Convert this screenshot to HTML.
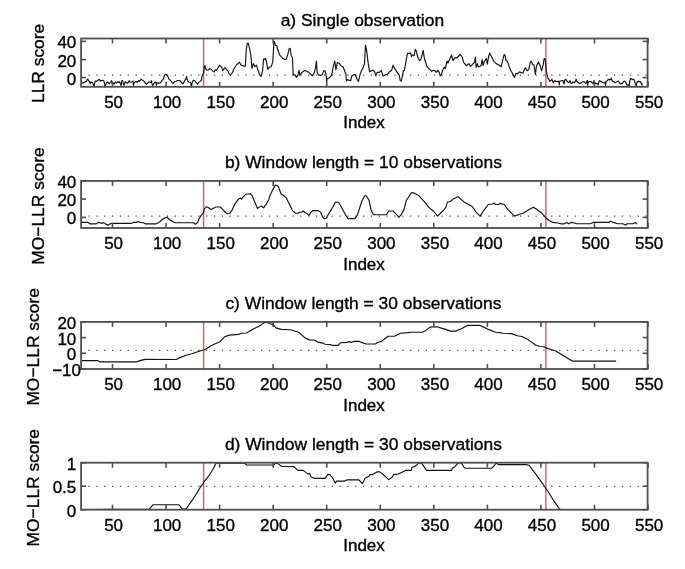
<!DOCTYPE html>
<html><head><meta charset="utf-8"><style>
html,body{margin:0;padding:0;background:#fff;}
svg{display:block;will-change:transform;}
text{font-family:"Liberation Sans",sans-serif;font-size:17px;fill:#000;stroke:#000;stroke-width:0.35px;}
.t{font-size:17.4px;}
</style></head><body>
<svg width="685" height="569" viewBox="0 0 685 569">
<rect width="685" height="569" fill="#fff"/>

<line x1="81.1" y1="75.2" x2="647.6" y2="75.2" stroke="#4a4a4a" stroke-width="1.25" stroke-dasharray="1.25 6.594" stroke-dashoffset="0.49"/>
<line x1="203.60" y1="38.5" x2="203.60" y2="86.8" stroke="#c56b71" stroke-width="1.5"/>
<line x1="545.90" y1="38.5" x2="545.90" y2="86.8" stroke="#c56b71" stroke-width="1.5"/>
<path d="M81.5,82.7 L82.6,83.1 L83.5,82.9 L84.6,82.0 L85.7,81.6 L86.6,81.4 L87.0,79.9 L87.7,79.2 L88.5,80.3 L89.4,81.6 L90.3,83.6 L91.0,81.8 L91.6,82.5 L92.7,82.7 L93.8,86.2 L94.5,84.5 L95.1,81.2 L95.8,81.0 L96.4,81.4 L97.5,80.5 L98.8,79.6 L99.5,79.4 L100.4,81.2 L101.0,80.7 L102.1,80.3 L103.2,80.5 L103.9,81.0 L104.5,83.1 L104.9,87.1 L105.6,84.9 L106.3,83.1 L107.4,82.0 L108.5,82.9 L109.3,84.0 L110.6,82.0 L111.7,80.7 L112.4,85.0 L112.8,82.5 L114.1,84.0 L115.2,82.0 L116.3,83.1 L117.4,81.8 L118.5,82.5 L119.2,81.6 L120.0,82.7 L121.1,85.5 L121.8,80.5 L122.7,80.5 L123.5,84.5 L124.2,85.1 L124.9,82.3 L125.7,81.8 L126.8,82.9 L127.9,83.1 L129.2,80.7 L130.1,82.0 L131.0,82.3 L132.1,81.8 L133.0,81.0 L133.4,85.3 L134.1,82.7 L135.2,81.8 L136.3,81.6 L137.3,82.5 L138.4,80.5 L139.3,81.4 L140.2,80.5 L141.3,79.2 L142.4,80.3 L143.4,80.5 L144.3,81.6 L145.4,83.4 L146.5,84.5 L147.6,83.1 L148.7,82.0 L150.0,82.3 L151.1,82.3 L151.4,80.5 L151.8,83.1 L152.6,85.5 L153.5,84.2 L154.8,82.3 L155.9,82.0 L156.4,85.5 L157.0,82.7 L158.3,83.1 L159.7,83.1 L160.5,82.7 L161.4,81.4 L162.3,80.1 L163.4,79.2 L164.0,76.6 L164.7,74.8 L165.6,74.2 L166.0,74.3 L167.1,75.2 L167.9,76.5 L168.6,78.3 L169.3,79.8 L170.1,80.0 L171.0,80.9 L172.1,82.6 L173.0,83.3 L173.9,82.4 L175.0,81.5 L176.3,81.3 L177.6,80.5 L179.1,80.5 L180.2,80.9 L181.3,82.2 L182.4,83.7 L183.3,83.5 L184.1,81.8 L185.0,80.0 L185.9,79.1 L186.6,76.5 L187.0,79.1 L187.7,80.5 L188.5,81.8 L189.4,82.2 L190.3,82.4 L190.9,83.3 L191.4,87.0 L192.0,83.1 L192.9,80.9 L193.5,80.2 L195.0,81.1 L196.2,82.3 L197.4,84.1 L198.6,82.6 L200.1,81.4 L201.3,80.2 L201.9,76.6 L202.8,74.5 L203.7,72.7 L204.3,66.5 L204.9,65.6 L205.4,67.7 L206.3,70.0 L207.8,70.3 L209.0,69.4 L209.9,68.3 L211.1,69.4 L212.6,70.9 L214.1,72.1 L215.3,69.7 L216.2,70.3 L217.4,69.1 L218.6,66.8 L219.5,65.3 L220.7,66.2 L221.9,67.7 L222.8,70.8 L224.8,67.7 L226.4,69.3 L227.9,70.8 L228.9,73.3 L230.4,74.9 L232.0,73.3 L234.0,68.7 L236.6,64.7 L239.6,62.1 L240.7,64.7 L242.7,65.9 L245.3,66.2 L246.3,49.3 L247.3,43.2 L248.3,43.2 L249.9,50.4 L250.9,55.5 L251.9,68.2 L253.4,63.6 L255.0,66.7 L256.5,65.2 L257.5,68.7 L259.6,74.9 L261.1,76.4 L262.6,70.8 L263.6,59.0 L264.7,59.5 L265.7,58.5 L266.7,62.6 L267.7,69.3 L269.3,67.2 L271.3,66.7 L272.8,61.6 L273.9,42.2 L274.4,41.7 L275.4,45.2 L276.9,45.8 L277.6,49.3 L279.6,54.9 L282.2,58.0 L284.2,59.3 L286.2,59.3 L287.8,54.4 L289.3,48.3 L290.3,48.8 L291.3,56.0 L292.4,57.5 L293.2,74.9 L294.9,74.9 L296.5,77.4 L298.0,74.9 L299.0,70.3 L300.0,75.4 L301.6,72.8 L303.6,71.3 L305.1,70.3 L306.7,71.3 L308.7,72.3 L310.8,74.4 L312.3,75.9 L313.8,73.9 L315.4,68.7 L316.4,61.1 L317.1,71.8 L318.4,74.9 L320.5,75.4 L322.5,74.4 L323.5,70.8 L325.1,70.8 L326.1,74.9 L326.6,81.8 L327.1,79.0 L329.2,77.9 L331.7,75.4 L333.2,66.7 L334.8,61.1 L335.8,69.8 L337.3,62.6 L339.4,63.6 L341.4,66.2 L343.1,66.7 L344.6,70.8 L346.1,74.9 L346.3,81.0 L347.7,79.5 L349.2,80.5 L350.7,80.5 L351.8,75.9 L353.3,74.9 L355.3,74.4 L356.9,79.0 L358.4,81.5 L359.9,74.9 L361.5,70.8 L363.5,66.7 L364.5,63.6 L365.5,45.2 L366.6,50.4 L368.1,62.6 L369.6,71.8 L371.2,70.8 L373.2,70.3 L374.7,71.8 L375.8,75.9 L377.3,72.3 L379.3,72.3 L381.4,70.3 L382.9,75.9 L384.5,75.4 L386.0,74.4 L387.5,74.4 L389.0,72.3 L391.6,70.3 L393.1,65.2 L394.7,68.7 L397.2,72.3 L399.3,75.4 L400.3,81.0 L401.3,81.0 L403.4,70.8 L404.4,70.3 L405.9,61.6 L407.4,53.4 L409.1,53.4 L410.6,52.9 L411.6,56.5 L412.7,55.0 L414.2,55.5 L415.2,49.3 L416.2,50.9 L417.8,57.0 L419.3,60.6 L420.8,59.5 L422.4,53.9 L423.2,50.4 L424.4,58.5 L427.0,66.7 L429.0,68.7 L431.6,71.3 L433.6,70.3 L435.1,70.8 L436.2,72.3 L437.7,70.3 L439.2,72.3 L440.3,75.9 L441.3,74.9 L442.8,69.8 L444.3,67.2 L445.4,68.7 L446.9,61.1 L447.9,63.1 L450.0,58.5 L451.5,55.0 L453.0,60.6 L455.1,57.5 L457.1,58.0 L460.2,54.4 L462.2,57.0 L463.8,62.6 L466.3,65.7 L468.9,63.6 L470.4,66.2 L471.5,65.7 L473.1,63.6 L474.6,62.1 L475.3,57.0 L476.1,67.2 L477.4,63.6 L478.2,66.7 L479.7,66.7 L481.2,65.2 L482.1,59.5 L483.1,65.7 L484.3,61.6 L486.4,58.5 L487.4,64.1 L488.4,57.5 L489.6,52.9 L491.5,56.5 L494.0,61.6 L496.1,63.6 L498.6,64.7 L501.2,66.7 L502.7,60.1 L504.2,54.4 L505.3,56.0 L506.0,60.8 L507.3,61.1 L509.3,66.7 L510.9,70.8 L512.4,73.3 L514.5,77.4 L516.0,73.3 L517.5,73.9 L519.6,71.8 L521.1,72.8 L523.1,72.8 L525.2,67.7 L527.2,70.8 L528.8,69.3 L530.3,62.1 L531.3,61.1 L532.8,64.7 L533.9,64.7 L535.4,74.4 L536.5,65.7 L538.6,62.1 L540.1,65.7 L541.6,70.8 L543.2,64.7 L544.2,58.5 L545.2,59.0 L546.3,71.3 L547.2,75.3 L548.1,78.3 L549.2,79.9 L549.6,81.4 L550.5,80.7 L551.4,80.1 L552.0,79.4 L552.7,81.4 L553.3,82.7 L554.0,81.4 L554.9,80.7 L556.0,81.4 L557.0,81.6 L558.1,81.2 L559.0,81.4 L559.2,84.9 L559.7,81.4 L560.8,81.0 L561.9,80.5 L563.0,80.5 L563.6,83.1 L564.3,83.6 L564.7,80.5 L565.4,79.2 L566.0,79.6 L566.9,81.0 L567.8,81.8 L568.4,82.7 L569.1,82.3 L570.0,80.5 L570.6,82.5 L571.5,83.6 L572.2,83.1 L573.0,81.8 L574.5,82.7 L575.6,80.5 L576.1,79.2 L576.7,81.0 L577.6,82.0 L578.7,83.1 L580.0,83.6 L581.3,82.7 L582.9,81.6 L584.0,81.8 L585.0,82.7 L585.9,83.4 L587.0,81.0 L587.5,80.5 L587.7,85.3 L588.1,82.7 L589.0,81.6 L590.1,81.4 L591.2,81.6 L592.3,83.1 L593.1,83.6 L594.0,80.5 L594.5,84.5 L595.1,83.1 L596.2,83.6 L597.3,83.6 L598.2,84.9 L598.8,82.7 L599.3,80.7 L600.2,81.0 L601.3,81.6 L602.8,82.5 L604.1,82.9 L605.2,82.3 L605.6,85.3 L606.0,81.4 L607.1,81.0 L608.2,79.4 L609.5,79.9 L610.6,79.2 L611.3,78.1 L611.7,79.9 L612.6,81.2 L613.7,81.6 L615.0,82.7 L616.1,82.3 L617.4,81.4 L618.3,81.0 L619.4,82.7 L620.5,84.0 L621.6,83.4 L622.5,83.6 L623.3,81.6 L624.4,81.2 L625.5,81.8 L626.8,84.9 L627.7,85.3 L628.8,84.9 L629.4,85.5 L629.8,81.0 L630.5,78.3 L631.4,78.8 L632.2,79.6 L633.1,79.2 L634.0,79.6 L634.9,82.3 L635.7,84.9 L636.3,85.8 L636.8,82.7 L637.7,81.6 L639.0,81.4 L640.3,81.6 L641.4,83.6 L641.9,85.1 L642.5,83.6" fill="none" stroke="#111" stroke-width="1.15" stroke-linejoin="round"/>
<rect x="81.1" y="38.5" width="566.5" height="48.3" fill="none" stroke="#4e4e4e" stroke-width="1.8"/>
<line x1="112.50" y1="38.5" x2="112.50" y2="43.5" stroke="#4e4e4e" stroke-width="1.6"/>
<line x1="112.50" y1="86.8" x2="112.50" y2="81.8" stroke="#4e4e4e" stroke-width="1.6"/>
<text x="113.59" y="107.8" text-anchor="middle">50</text>
<line x1="166.05" y1="38.5" x2="166.05" y2="43.5" stroke="#4e4e4e" stroke-width="1.6"/>
<line x1="166.05" y1="86.8" x2="166.05" y2="81.8" stroke="#4e4e4e" stroke-width="1.6"/>
<text x="167.15" y="107.8" text-anchor="middle">100</text>
<line x1="219.60" y1="38.5" x2="219.60" y2="43.5" stroke="#4e4e4e" stroke-width="1.6"/>
<line x1="219.60" y1="86.8" x2="219.60" y2="81.8" stroke="#4e4e4e" stroke-width="1.6"/>
<text x="220.70" y="107.8" text-anchor="middle">150</text>
<line x1="273.16" y1="38.5" x2="273.16" y2="43.5" stroke="#4e4e4e" stroke-width="1.6"/>
<line x1="273.16" y1="86.8" x2="273.16" y2="81.8" stroke="#4e4e4e" stroke-width="1.6"/>
<text x="274.26" y="107.8" text-anchor="middle">200</text>
<line x1="326.71" y1="38.5" x2="326.71" y2="43.5" stroke="#4e4e4e" stroke-width="1.6"/>
<line x1="326.71" y1="86.8" x2="326.71" y2="81.8" stroke="#4e4e4e" stroke-width="1.6"/>
<text x="327.81" y="107.8" text-anchor="middle">250</text>
<line x1="380.27" y1="38.5" x2="380.27" y2="43.5" stroke="#4e4e4e" stroke-width="1.6"/>
<line x1="380.27" y1="86.8" x2="380.27" y2="81.8" stroke="#4e4e4e" stroke-width="1.6"/>
<text x="381.37" y="107.8" text-anchor="middle">300</text>
<line x1="433.82" y1="38.5" x2="433.82" y2="43.5" stroke="#4e4e4e" stroke-width="1.6"/>
<line x1="433.82" y1="86.8" x2="433.82" y2="81.8" stroke="#4e4e4e" stroke-width="1.6"/>
<text x="434.93" y="107.8" text-anchor="middle">350</text>
<line x1="487.38" y1="38.5" x2="487.38" y2="43.5" stroke="#4e4e4e" stroke-width="1.6"/>
<line x1="487.38" y1="86.8" x2="487.38" y2="81.8" stroke="#4e4e4e" stroke-width="1.6"/>
<text x="488.48" y="107.8" text-anchor="middle">400</text>
<line x1="540.93" y1="38.5" x2="540.93" y2="43.5" stroke="#4e4e4e" stroke-width="1.6"/>
<line x1="540.93" y1="86.8" x2="540.93" y2="81.8" stroke="#4e4e4e" stroke-width="1.6"/>
<text x="542.03" y="107.8" text-anchor="middle">450</text>
<line x1="594.49" y1="38.5" x2="594.49" y2="43.5" stroke="#4e4e4e" stroke-width="1.6"/>
<line x1="594.49" y1="86.8" x2="594.49" y2="81.8" stroke="#4e4e4e" stroke-width="1.6"/>
<text x="595.59" y="107.8" text-anchor="middle">500</text>
<line x1="648.05" y1="38.5" x2="648.05" y2="43.5" stroke="#4e4e4e" stroke-width="1.6"/>
<line x1="648.05" y1="86.8" x2="648.05" y2="81.8" stroke="#4e4e4e" stroke-width="1.6"/>
<text x="649.15" y="107.8" text-anchor="middle">550</text>
<line x1="81.1" y1="41.4" x2="86.1" y2="41.4" stroke="#4e4e4e" stroke-width="1.6"/>
<line x1="647.6" y1="41.4" x2="642.6" y2="41.4" stroke="#4e4e4e" stroke-width="1.6"/>
<text x="76.3" y="48.4" text-anchor="end">40</text>
<line x1="81.1" y1="59.6" x2="86.1" y2="59.6" stroke="#4e4e4e" stroke-width="1.6"/>
<line x1="647.6" y1="59.6" x2="642.6" y2="59.6" stroke="#4e4e4e" stroke-width="1.6"/>
<text x="76.3" y="66.6" text-anchor="end">20</text>
<line x1="81.1" y1="77.6" x2="86.1" y2="77.6" stroke="#4e4e4e" stroke-width="1.6"/>
<line x1="647.6" y1="77.6" x2="642.6" y2="77.6" stroke="#4e4e4e" stroke-width="1.6"/>
<text x="76.3" y="84.6" text-anchor="end">0</text>
<text class="t" x="362.4" y="25.7" text-anchor="middle">a) Single observation</text>
<text x="364" y="128.4" text-anchor="middle">Index</text>
<text class="t" transform="translate(44.1,63.4) rotate(-90)" x="0" y="0" text-anchor="middle">LLR score</text>
<line x1="81.1" y1="216.1" x2="647.6" y2="216.1" stroke="#4a4a4a" stroke-width="1.25" stroke-dasharray="1.25 6.594" stroke-dashoffset="0.49"/>
<line x1="203.60" y1="180.9" x2="203.60" y2="228.0" stroke="#c56b71" stroke-width="1.5"/>
<line x1="545.90" y1="180.9" x2="545.90" y2="228.0" stroke="#c56b71" stroke-width="1.5"/>
<path d="M81.5,222.4 L88.0,222.4 L90.2,223.9 L96.1,223.9 L98.2,222.4 L100.4,222.7 L101.9,223.4 L103.4,222.4 L104.8,223.4 L107.7,225.3 L109.9,223.9 L112.1,223.4 L131.1,223.4 L133.3,222.4 L136.2,222.4 L138.4,221.5 L139.9,222.4 L143.5,222.7 L145.7,223.9 L155.9,223.9 L159.6,222.0 L163.2,218.6 L166.9,217.2 L169.8,219.8 L172.7,221.5 L175.1,222.7 L193.4,222.7 L195.5,224.2 L197.7,222.4 L199.2,218.3 L201.4,215.1 L203.3,213.2 L204.3,208.8 L206.5,206.7 L208.7,207.8 L210.9,209.6 L213.1,208.4 L216.0,207.0 L220.4,207.0 L222.6,209.3 L225.5,212.5 L227.7,213.7 L229.9,213.2 L232.0,210.3 L234.2,205.2 L237.9,199.8 L240.1,197.9 L241.5,199.1 L243.0,197.2 L245.9,194.2 L250.3,193.8 L251.8,195.0 L253.9,200.1 L257.6,208.4 L261.2,205.9 L263.6,207.8 L266.6,203.7 L268.8,199.4 L270.2,195.0 L273.1,189.1 L275.3,185.1 L278.2,186.2 L281.2,194.2 L283.4,195.3 L286.3,197.9 L289.2,203.7 L292.8,211.0 L295.8,213.4 L298.0,213.2 L299.4,212.2 L301.6,212.2 L303.1,211.0 L305.3,212.8 L306.7,213.2 L308.9,215.4 L311.1,212.2 L312.6,210.6 L318.4,210.6 L320.6,212.2 L322.8,217.2 L324.2,218.6 L326.4,218.3 L327.9,215.1 L333.0,206.7 L335.2,202.3 L338.1,202.0 L339.6,204.0 L346.9,217.2 L348.3,218.6 L354.9,218.6 L357.3,215.4 L361.7,201.5 L364.6,195.7 L366.1,195.7 L369.0,200.1 L371.2,210.3 L373.4,214.7 L386.5,214.7 L388.7,211.0 L393.1,211.0 L396.7,214.7 L398.9,217.3 L401.1,214.7 L404.0,209.6 L406.2,200.8 L411.3,192.8 L413.5,192.8 L418.6,195.4 L421.5,198.6 L425.2,202.7 L428.8,207.4 L433.9,211.5 L437.6,216.1 L441.2,212.5 L442.9,211.0 L445.8,207.4 L447.3,202.3 L450.2,201.5 L453.1,199.1 L458.2,196.7 L461.2,199.4 L464.8,202.6 L471.4,205.9 L473.6,208.4 L475.8,211.8 L480.1,216.1 L483.8,210.3 L488.2,204.5 L492.6,204.0 L494.0,203.0 L495.5,204.5 L498.4,204.5 L499.9,203.4 L504.2,204.5 L508.6,210.3 L514.5,216.1 L519.6,214.2 L523.2,213.2 L529.1,209.6 L533.5,207.2 L537.9,210.2 L541.4,212.8 L545.8,217.7 L549.3,220.7 L552.8,222.4 L558.0,223.0 L560.7,223.8 L564.2,223.8 L566.8,222.4 L568.5,223.7 L571.2,222.4 L574.7,223.0 L576.4,223.7 L590.4,223.7 L593.1,222.4 L608.8,222.4 L610.6,221.2 L613.2,222.4 L617.6,223.7 L622.9,223.7 L625.5,225.1 L627.2,223.7 L633.4,223.7 L635.1,222.4 L636.9,224.2" fill="none" stroke="#111" stroke-width="1.15" stroke-linejoin="round"/>
<rect x="81.1" y="180.9" width="566.5" height="47.1" fill="none" stroke="#4e4e4e" stroke-width="1.8"/>
<line x1="112.50" y1="180.9" x2="112.50" y2="185.9" stroke="#4e4e4e" stroke-width="1.6"/>
<line x1="112.50" y1="228.0" x2="112.50" y2="223.0" stroke="#4e4e4e" stroke-width="1.6"/>
<text x="113.59" y="249.0" text-anchor="middle">50</text>
<line x1="166.05" y1="180.9" x2="166.05" y2="185.9" stroke="#4e4e4e" stroke-width="1.6"/>
<line x1="166.05" y1="228.0" x2="166.05" y2="223.0" stroke="#4e4e4e" stroke-width="1.6"/>
<text x="167.15" y="249.0" text-anchor="middle">100</text>
<line x1="219.60" y1="180.9" x2="219.60" y2="185.9" stroke="#4e4e4e" stroke-width="1.6"/>
<line x1="219.60" y1="228.0" x2="219.60" y2="223.0" stroke="#4e4e4e" stroke-width="1.6"/>
<text x="220.70" y="249.0" text-anchor="middle">150</text>
<line x1="273.16" y1="180.9" x2="273.16" y2="185.9" stroke="#4e4e4e" stroke-width="1.6"/>
<line x1="273.16" y1="228.0" x2="273.16" y2="223.0" stroke="#4e4e4e" stroke-width="1.6"/>
<text x="274.26" y="249.0" text-anchor="middle">200</text>
<line x1="326.71" y1="180.9" x2="326.71" y2="185.9" stroke="#4e4e4e" stroke-width="1.6"/>
<line x1="326.71" y1="228.0" x2="326.71" y2="223.0" stroke="#4e4e4e" stroke-width="1.6"/>
<text x="327.81" y="249.0" text-anchor="middle">250</text>
<line x1="380.27" y1="180.9" x2="380.27" y2="185.9" stroke="#4e4e4e" stroke-width="1.6"/>
<line x1="380.27" y1="228.0" x2="380.27" y2="223.0" stroke="#4e4e4e" stroke-width="1.6"/>
<text x="381.37" y="249.0" text-anchor="middle">300</text>
<line x1="433.82" y1="180.9" x2="433.82" y2="185.9" stroke="#4e4e4e" stroke-width="1.6"/>
<line x1="433.82" y1="228.0" x2="433.82" y2="223.0" stroke="#4e4e4e" stroke-width="1.6"/>
<text x="434.93" y="249.0" text-anchor="middle">350</text>
<line x1="487.38" y1="180.9" x2="487.38" y2="185.9" stroke="#4e4e4e" stroke-width="1.6"/>
<line x1="487.38" y1="228.0" x2="487.38" y2="223.0" stroke="#4e4e4e" stroke-width="1.6"/>
<text x="488.48" y="249.0" text-anchor="middle">400</text>
<line x1="540.93" y1="180.9" x2="540.93" y2="185.9" stroke="#4e4e4e" stroke-width="1.6"/>
<line x1="540.93" y1="228.0" x2="540.93" y2="223.0" stroke="#4e4e4e" stroke-width="1.6"/>
<text x="542.03" y="249.0" text-anchor="middle">450</text>
<line x1="594.49" y1="180.9" x2="594.49" y2="185.9" stroke="#4e4e4e" stroke-width="1.6"/>
<line x1="594.49" y1="228.0" x2="594.49" y2="223.0" stroke="#4e4e4e" stroke-width="1.6"/>
<text x="595.59" y="249.0" text-anchor="middle">500</text>
<line x1="648.05" y1="180.9" x2="648.05" y2="185.9" stroke="#4e4e4e" stroke-width="1.6"/>
<line x1="648.05" y1="228.0" x2="648.05" y2="223.0" stroke="#4e4e4e" stroke-width="1.6"/>
<text x="649.15" y="249.0" text-anchor="middle">550</text>
<line x1="81.1" y1="180.9" x2="86.1" y2="180.9" stroke="#4e4e4e" stroke-width="1.6"/>
<line x1="647.6" y1="180.9" x2="642.6" y2="180.9" stroke="#4e4e4e" stroke-width="1.6"/>
<text x="76.3" y="187.9" text-anchor="end">40</text>
<line x1="81.1" y1="199.1" x2="86.1" y2="199.1" stroke="#4e4e4e" stroke-width="1.6"/>
<line x1="647.6" y1="199.1" x2="642.6" y2="199.1" stroke="#4e4e4e" stroke-width="1.6"/>
<text x="76.3" y="206.1" text-anchor="end">20</text>
<line x1="81.1" y1="217.4" x2="86.1" y2="217.4" stroke="#4e4e4e" stroke-width="1.6"/>
<line x1="647.6" y1="217.4" x2="642.6" y2="217.4" stroke="#4e4e4e" stroke-width="1.6"/>
<text x="76.3" y="224.4" text-anchor="end">0</text>
<text class="t" x="363.4" y="167.5" text-anchor="middle">b) Window length = 10 observations</text>
<text x="364" y="269.6" text-anchor="middle">Index</text>
<text class="t" transform="translate(44.1,206.0) rotate(-90)" x="0" y="0" text-anchor="middle">MO−LLR score</text>
<line x1="81.1" y1="350.4" x2="647.6" y2="350.4" stroke="#4a4a4a" stroke-width="1.25" stroke-dasharray="1.25 6.594" stroke-dashoffset="0.49"/>
<line x1="203.60" y1="321.9" x2="203.60" y2="369.0" stroke="#c56b71" stroke-width="1.5"/>
<line x1="545.90" y1="321.9" x2="545.90" y2="369.0" stroke="#c56b71" stroke-width="1.5"/>
<path d="M81.5,360.6 L97.5,360.6 L99.7,361.8 L136.9,361.8 L139.9,360.6 L145.0,359.4 L176.6,359.5 L178.8,358.1 L186.1,355.2 L191.9,353.8 L199.2,351.3 L204.3,349.8 L206.5,348.7 L210.9,345.7 L220.4,341.4 L224.7,336.7 L229.1,335.1 L238.6,334.4 L241.5,333.3 L246.6,333.0 L253.2,329.0 L259.0,326.3 L264.2,322.6 L268.0,322.4 L270.2,323.8 L273.1,324.6 L276.1,327.9 L281.2,329.4 L290.7,329.7 L293.6,330.8 L298.7,332.3 L305.3,338.1 L309.6,339.9 L314.7,340.2 L317.7,342.1 L322.8,343.1 L325.0,344.3 L330.1,344.6 L332.3,345.3 L338.1,345.3 L340.3,342.8 L347.6,342.4 L349.1,341.6 L351.2,342.4 L354.2,341.3 L359.5,341.4 L361.7,342.4 L366.1,344.0 L375.5,344.0 L377.7,342.5 L381.4,341.4 L388.0,336.2 L394.5,336.2 L400.4,333.3 L408.4,332.6 L410.6,332.2 L422.3,332.2 L425.9,330.4 L430.0,327.1 L437.6,326.8 L440.5,327.9 L445.8,329.4 L450.2,331.1 L456.1,331.1 L461.9,328.5 L467.7,325.3 L479.4,325.3 L483.8,327.1 L488.2,329.4 L495.5,332.2 L499.9,332.6 L502.8,333.3 L511.5,333.6 L517.4,335.8 L521.8,336.5 L527.6,339.2 L530.0,341.1 L535.7,345.0 L540.2,346.5 L543.9,346.8 L546.1,347.9 L551.9,349.8 L556.3,351.3 L565.0,356.7 L572.3,361.1 L616.1,361.1" fill="none" stroke="#111" stroke-width="1.15" stroke-linejoin="round"/>
<rect x="81.1" y="321.9" width="566.5" height="47.1" fill="none" stroke="#4e4e4e" stroke-width="1.8"/>
<line x1="112.50" y1="321.9" x2="112.50" y2="326.9" stroke="#4e4e4e" stroke-width="1.6"/>
<line x1="112.50" y1="369.0" x2="112.50" y2="364.0" stroke="#4e4e4e" stroke-width="1.6"/>
<text x="113.59" y="390.0" text-anchor="middle">50</text>
<line x1="166.05" y1="321.9" x2="166.05" y2="326.9" stroke="#4e4e4e" stroke-width="1.6"/>
<line x1="166.05" y1="369.0" x2="166.05" y2="364.0" stroke="#4e4e4e" stroke-width="1.6"/>
<text x="167.15" y="390.0" text-anchor="middle">100</text>
<line x1="219.60" y1="321.9" x2="219.60" y2="326.9" stroke="#4e4e4e" stroke-width="1.6"/>
<line x1="219.60" y1="369.0" x2="219.60" y2="364.0" stroke="#4e4e4e" stroke-width="1.6"/>
<text x="220.70" y="390.0" text-anchor="middle">150</text>
<line x1="273.16" y1="321.9" x2="273.16" y2="326.9" stroke="#4e4e4e" stroke-width="1.6"/>
<line x1="273.16" y1="369.0" x2="273.16" y2="364.0" stroke="#4e4e4e" stroke-width="1.6"/>
<text x="274.26" y="390.0" text-anchor="middle">200</text>
<line x1="326.71" y1="321.9" x2="326.71" y2="326.9" stroke="#4e4e4e" stroke-width="1.6"/>
<line x1="326.71" y1="369.0" x2="326.71" y2="364.0" stroke="#4e4e4e" stroke-width="1.6"/>
<text x="327.81" y="390.0" text-anchor="middle">250</text>
<line x1="380.27" y1="321.9" x2="380.27" y2="326.9" stroke="#4e4e4e" stroke-width="1.6"/>
<line x1="380.27" y1="369.0" x2="380.27" y2="364.0" stroke="#4e4e4e" stroke-width="1.6"/>
<text x="381.37" y="390.0" text-anchor="middle">300</text>
<line x1="433.82" y1="321.9" x2="433.82" y2="326.9" stroke="#4e4e4e" stroke-width="1.6"/>
<line x1="433.82" y1="369.0" x2="433.82" y2="364.0" stroke="#4e4e4e" stroke-width="1.6"/>
<text x="434.93" y="390.0" text-anchor="middle">350</text>
<line x1="487.38" y1="321.9" x2="487.38" y2="326.9" stroke="#4e4e4e" stroke-width="1.6"/>
<line x1="487.38" y1="369.0" x2="487.38" y2="364.0" stroke="#4e4e4e" stroke-width="1.6"/>
<text x="488.48" y="390.0" text-anchor="middle">400</text>
<line x1="540.93" y1="321.9" x2="540.93" y2="326.9" stroke="#4e4e4e" stroke-width="1.6"/>
<line x1="540.93" y1="369.0" x2="540.93" y2="364.0" stroke="#4e4e4e" stroke-width="1.6"/>
<text x="542.03" y="390.0" text-anchor="middle">450</text>
<line x1="594.49" y1="321.9" x2="594.49" y2="326.9" stroke="#4e4e4e" stroke-width="1.6"/>
<line x1="594.49" y1="369.0" x2="594.49" y2="364.0" stroke="#4e4e4e" stroke-width="1.6"/>
<text x="595.59" y="390.0" text-anchor="middle">500</text>
<line x1="648.05" y1="321.9" x2="648.05" y2="326.9" stroke="#4e4e4e" stroke-width="1.6"/>
<line x1="648.05" y1="369.0" x2="648.05" y2="364.0" stroke="#4e4e4e" stroke-width="1.6"/>
<text x="649.15" y="390.0" text-anchor="middle">550</text>
<line x1="81.1" y1="321.9" x2="86.1" y2="321.9" stroke="#4e4e4e" stroke-width="1.6"/>
<line x1="647.6" y1="321.9" x2="642.6" y2="321.9" stroke="#4e4e4e" stroke-width="1.6"/>
<text x="76.3" y="328.9" text-anchor="end">20</text>
<line x1="81.1" y1="337.6" x2="86.1" y2="337.6" stroke="#4e4e4e" stroke-width="1.6"/>
<line x1="647.6" y1="337.6" x2="642.6" y2="337.6" stroke="#4e4e4e" stroke-width="1.6"/>
<text x="76.3" y="344.6" text-anchor="end">10</text>
<line x1="81.1" y1="353.3" x2="86.1" y2="353.3" stroke="#4e4e4e" stroke-width="1.6"/>
<line x1="647.6" y1="353.3" x2="642.6" y2="353.3" stroke="#4e4e4e" stroke-width="1.6"/>
<text x="76.3" y="360.3" text-anchor="end">0</text>
<line x1="81.1" y1="369.0" x2="86.1" y2="369.0" stroke="#4e4e4e" stroke-width="1.6"/>
<line x1="647.6" y1="369.0" x2="642.6" y2="369.0" stroke="#4e4e4e" stroke-width="1.6"/>
<text x="81.0" y="376.0" text-anchor="end">−10</text>
<text class="t" x="363.4" y="308.5" text-anchor="middle">c) Window length = 30 observations</text>
<text x="364" y="410.6" text-anchor="middle">Index</text>
<text class="t" transform="translate(39.3,346.9) rotate(-90)" x="0" y="0" text-anchor="middle">MO−LLR score</text>
<line x1="81.1" y1="486.3" x2="647.6" y2="486.3" stroke="#4a4a4a" stroke-width="1.25" stroke-dasharray="1.25 6.594" stroke-dashoffset="0.49"/>
<line x1="203.60" y1="462.7" x2="203.60" y2="509.7" stroke="#c56b71" stroke-width="1.5"/>
<line x1="545.90" y1="462.7" x2="545.90" y2="509.7" stroke="#c56b71" stroke-width="1.5"/>
<path d="M81.0,509.5 L149.3,509.1 L153.0,504.7 L178.8,504.7 L182.4,509.1 L186.1,509.1 L189.0,504.7 L192.6,499.6 L197.0,493.0 L200.7,486.5 L202.8,484.3 L204.3,481.4 L208.7,476.2 L213.1,469.0 L216.0,463.5 L216.7,463.1 L244.5,463.1 L246.6,465.0 L273.9,464.9 L275.3,463.4 L277.5,463.4 L281.9,466.5 L293.6,466.5 L298.0,470.4 L303.1,470.4 L308.2,474.1 L309.6,473.3 L311.1,477.0 L314.7,478.4 L325.0,478.4 L327.9,474.4 L330.1,474.8 L333.0,478.4 L335.2,483.1 L336.6,481.1 L344.7,481.1 L346.9,479.9 L358.8,479.8 L362.4,483.5 L365.3,478.1 L369.0,476.2 L369.7,474.8 L373.4,474.1 L377.0,471.9 L379.9,471.9 L384.3,475.5 L388.7,479.6 L392.3,477.0 L393.8,474.4 L398.2,474.1 L400.4,473.0 L405.5,470.4 L411.3,470.4 L412.0,467.5 L414.2,466.8 L416.4,465.3 L418.6,463.1 L421.5,463.1 L426.6,470.4 L451.7,470.4 L452.4,468.2 L454.6,466.8 L458.2,462.8 L461.2,462.8 L464.1,467.5 L465.5,468.2 L491.8,468.2 L494.0,466.0 L496.2,463.1 L498.4,464.6 L526.1,464.6 L529.1,465.3 L535.8,474.1 L541.0,481.4 L544.6,486.5 L549.0,493.0 L553.4,500.3 L557.0,505.4 L559.2,508.8 L560.5,509.5 L616.0,509.5" fill="none" stroke="#111" stroke-width="1.15" stroke-linejoin="round"/>
<rect x="81.1" y="462.7" width="566.5" height="47.0" fill="none" stroke="#4e4e4e" stroke-width="1.8"/>
<line x1="112.50" y1="462.7" x2="112.50" y2="467.7" stroke="#4e4e4e" stroke-width="1.6"/>
<line x1="112.50" y1="509.7" x2="112.50" y2="504.7" stroke="#4e4e4e" stroke-width="1.6"/>
<text x="113.59" y="530.7" text-anchor="middle">50</text>
<line x1="166.05" y1="462.7" x2="166.05" y2="467.7" stroke="#4e4e4e" stroke-width="1.6"/>
<line x1="166.05" y1="509.7" x2="166.05" y2="504.7" stroke="#4e4e4e" stroke-width="1.6"/>
<text x="167.15" y="530.7" text-anchor="middle">100</text>
<line x1="219.60" y1="462.7" x2="219.60" y2="467.7" stroke="#4e4e4e" stroke-width="1.6"/>
<line x1="219.60" y1="509.7" x2="219.60" y2="504.7" stroke="#4e4e4e" stroke-width="1.6"/>
<text x="220.70" y="530.7" text-anchor="middle">150</text>
<line x1="273.16" y1="462.7" x2="273.16" y2="467.7" stroke="#4e4e4e" stroke-width="1.6"/>
<line x1="273.16" y1="509.7" x2="273.16" y2="504.7" stroke="#4e4e4e" stroke-width="1.6"/>
<text x="274.26" y="530.7" text-anchor="middle">200</text>
<line x1="326.71" y1="462.7" x2="326.71" y2="467.7" stroke="#4e4e4e" stroke-width="1.6"/>
<line x1="326.71" y1="509.7" x2="326.71" y2="504.7" stroke="#4e4e4e" stroke-width="1.6"/>
<text x="327.81" y="530.7" text-anchor="middle">250</text>
<line x1="380.27" y1="462.7" x2="380.27" y2="467.7" stroke="#4e4e4e" stroke-width="1.6"/>
<line x1="380.27" y1="509.7" x2="380.27" y2="504.7" stroke="#4e4e4e" stroke-width="1.6"/>
<text x="381.37" y="530.7" text-anchor="middle">300</text>
<line x1="433.82" y1="462.7" x2="433.82" y2="467.7" stroke="#4e4e4e" stroke-width="1.6"/>
<line x1="433.82" y1="509.7" x2="433.82" y2="504.7" stroke="#4e4e4e" stroke-width="1.6"/>
<text x="434.93" y="530.7" text-anchor="middle">350</text>
<line x1="487.38" y1="462.7" x2="487.38" y2="467.7" stroke="#4e4e4e" stroke-width="1.6"/>
<line x1="487.38" y1="509.7" x2="487.38" y2="504.7" stroke="#4e4e4e" stroke-width="1.6"/>
<text x="488.48" y="530.7" text-anchor="middle">400</text>
<line x1="540.93" y1="462.7" x2="540.93" y2="467.7" stroke="#4e4e4e" stroke-width="1.6"/>
<line x1="540.93" y1="509.7" x2="540.93" y2="504.7" stroke="#4e4e4e" stroke-width="1.6"/>
<text x="542.03" y="530.7" text-anchor="middle">450</text>
<line x1="594.49" y1="462.7" x2="594.49" y2="467.7" stroke="#4e4e4e" stroke-width="1.6"/>
<line x1="594.49" y1="509.7" x2="594.49" y2="504.7" stroke="#4e4e4e" stroke-width="1.6"/>
<text x="595.59" y="530.7" text-anchor="middle">500</text>
<line x1="648.05" y1="462.7" x2="648.05" y2="467.7" stroke="#4e4e4e" stroke-width="1.6"/>
<line x1="648.05" y1="509.7" x2="648.05" y2="504.7" stroke="#4e4e4e" stroke-width="1.6"/>
<text x="649.15" y="530.7" text-anchor="middle">550</text>
<line x1="81.1" y1="462.7" x2="86.1" y2="462.7" stroke="#4e4e4e" stroke-width="1.6"/>
<line x1="647.6" y1="462.7" x2="642.6" y2="462.7" stroke="#4e4e4e" stroke-width="1.6"/>
<text x="76.3" y="469.7" text-anchor="end">1</text>
<line x1="81.1" y1="486.2" x2="86.1" y2="486.2" stroke="#4e4e4e" stroke-width="1.6"/>
<line x1="647.6" y1="486.2" x2="642.6" y2="486.2" stroke="#4e4e4e" stroke-width="1.6"/>
<text x="76.3" y="493.2" text-anchor="end">0.5</text>
<line x1="81.1" y1="509.7" x2="86.1" y2="509.7" stroke="#4e4e4e" stroke-width="1.6"/>
<line x1="647.6" y1="509.7" x2="642.6" y2="509.7" stroke="#4e4e4e" stroke-width="1.6"/>
<text x="76.3" y="516.7" text-anchor="end">0</text>
<text class="t" x="363.4" y="449.5" text-anchor="middle">d) Window length = 30 observations</text>
<text x="364" y="551.3" text-anchor="middle">Index</text>
<text class="t" transform="translate(39.3,487.7) rotate(-90)" x="0" y="0" text-anchor="middle">MO−LLR score</text>
</svg></body></html>
